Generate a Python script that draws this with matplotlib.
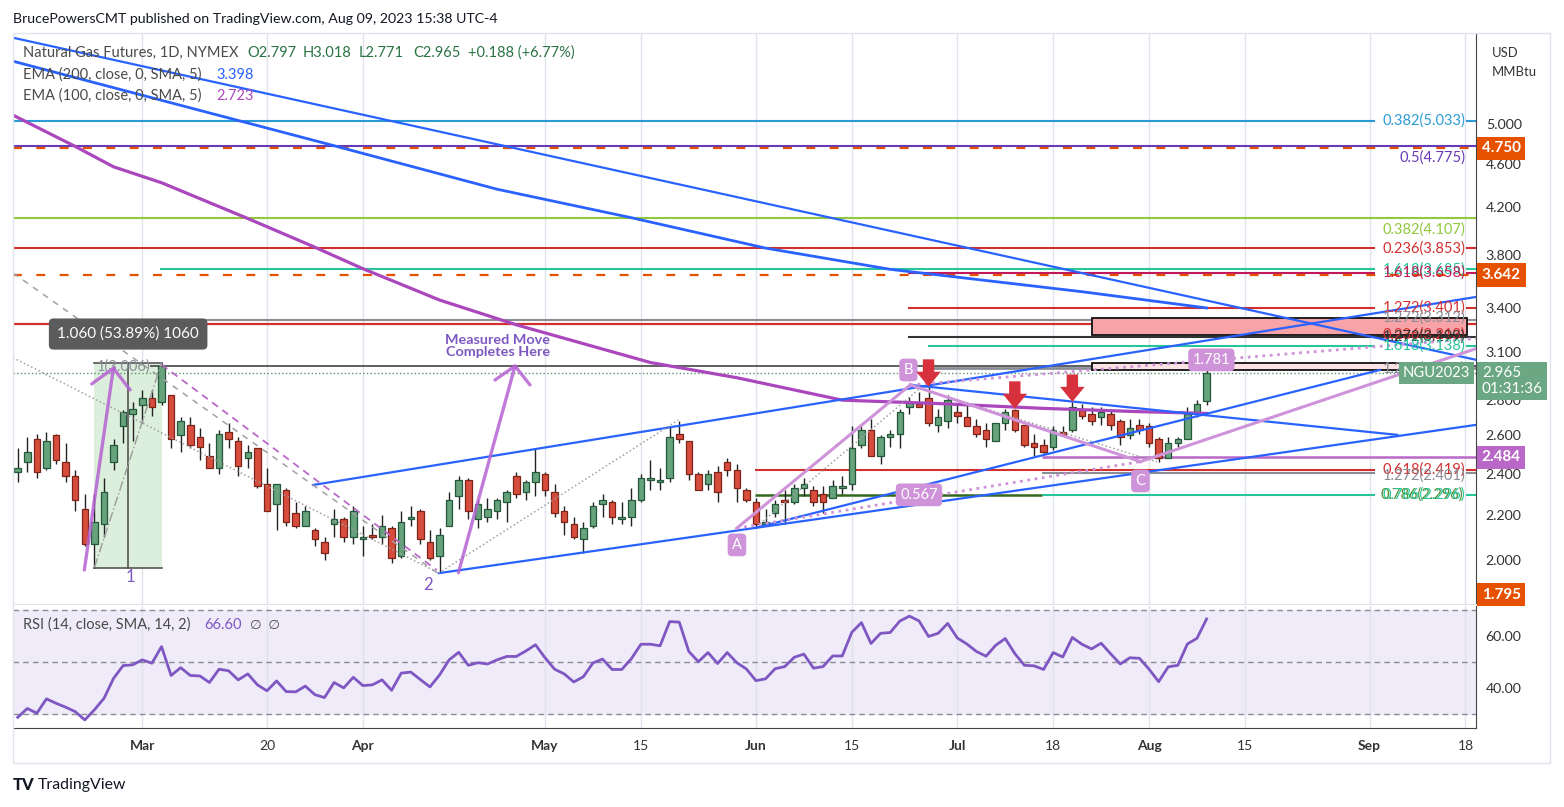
import numpy as np
import pandas as pd
import matplotlib
matplotlib.use('Agg')
import matplotlib.pyplot as plt
from matplotlib.patches import Rectangle, Polygon
from matplotlib.transforms import blended_transform_factory, Affine2D, ScaledTranslation

plt.rcParams['font.family'] = ['Lato', 'DejaVu Sans']

# trading days on NYMEX (holidays skipped), first bar is Feb 9 2023, last real bar Aug 9 2023
holidays = ['2023-02-20', '2023-04-07', '2023-05-29', '2023-06-19', '2023-07-04', '2023-09-04']
days = pd.bdate_range('2023-02-09', '2023-09-29', freq='C', holidays=holidays)

opens = [2.41, 2.46, 2.58, 2.43, 2.60, 2.46, 2.39, 2.23, 2.07, 2.16,
         2.46, 2.65, 2.72, 2.77, 2.81, 2.79, 2.83, 2.60, 2.66, 2.59,
         2.49, 2.43, 2.62, 2.57, 2.48, 2.53, 2.35, 2.25, 2.32, 2.21,
         2.15, 2.13, 2.08, 2.16, 2.18, 2.10, 2.09, 2.11, 2.10, 2.14,
         2.02, 2.18, 2.22, 2.08, 2.02, 2.15, 2.29, 2.37, 2.18, 2.19,
         2.22, 2.26, 2.39, 2.31, 2.36, 2.40, 2.31, 2.22, 2.16, 2.09,
         2.15, 2.25, 2.26, 2.18, 2.19, 2.27, 2.37, 2.36, 2.38, 2.61,
         2.57, 2.40, 2.35, 2.41, 2.46, 2.42, 2.32, 2.26, 2.16, 2.21,
         2.27, 2.26, 2.33, 2.32, 2.30, 2.28, 2.33, 2.35, 2.55, 2.63,
         2.49, 2.59, 2.61, 2.76, 2.78, 2.81, 2.66, 2.68, 2.73, 2.70,
         2.65, 2.63, 2.57, 2.67, 2.74, 2.66, 2.56, 2.55, 2.54, 2.62,
         2.63, 2.74, 2.72, 2.70, 2.72, 2.68, 2.60, 2.66, 2.65, 2.58,
         2.48, 2.56, 2.58, 2.73, 2.797]
highs = [2.53, 2.59, 2.61, 2.62, 2.61, 2.56, 2.42, 2.30, 2.30, 2.38,
         2.58, 2.74, 2.79, 2.86, 2.86, 3.027, 2.83, 2.70, 2.70, 2.64,
         2.56, 2.63, 2.67, 2.59, 2.55, 2.53, 2.43, 2.35, 2.33, 2.26,
         2.24, 2.14, 2.10, 2.23, 2.19, 2.24, 2.15, 2.16, 2.20, 2.15,
         2.22, 2.24, 2.23, 2.13, 2.14, 2.31, 2.39, 2.38, 2.27, 2.28,
         2.28, 2.32, 2.41, 2.37, 2.53, 2.41, 2.35, 2.24, 2.19, 2.17,
         2.26, 2.30, 2.27, 2.26, 2.33, 2.40, 2.47, 2.43, 2.65, 2.68,
         2.57, 2.41, 2.42, 2.44, 2.48, 2.45, 2.33, 2.28, 2.23, 2.27,
         2.32, 2.35, 2.38, 2.34, 2.34, 2.37, 2.39, 2.65, 2.65, 2.69,
         2.60, 2.63, 2.75, 2.82, 2.85, 2.88, 2.75, 2.83, 2.77, 2.79,
         2.69, 2.67, 2.67, 2.75, 2.75, 2.66, 2.61, 2.58, 2.65, 2.65,
         2.79, 2.78, 2.76, 2.76, 2.74, 2.69, 2.69, 2.69, 2.67, 2.59,
         2.59, 2.59, 2.76, 2.80, 3.018]
lows = [2.36, 2.41, 2.38, 2.42, 2.45, 2.36, 2.22, 2.06, 1.967, 2.10,
        2.42, 2.56, 2.57, 2.67, 2.71, 2.77, 2.53, 2.51, 2.53, 2.47,
        2.43, 2.40, 2.53, 2.39, 2.43, 2.33, 2.22, 2.13, 2.15, 2.14,
        2.15, 2.06, 2.00, 2.10, 2.08, 2.07, 2.02, 2.09, 2.07, 1.99,
        2.01, 2.15, 2.07, 2.00, 1.947, 2.15, 2.23, 2.18, 2.14, 2.17,
        2.18, 2.17, 2.28, 2.27, 2.29, 2.29, 2.19, 2.11, 2.09, 2.03,
        2.14, 2.19, 2.16, 2.16, 2.15, 2.26, 2.32, 2.32, 2.36, 2.56,
        2.37, 2.32, 2.32, 2.26, 2.39, 2.26, 2.26, 2.145, 2.15, 2.19,
        2.16, 2.25, 2.29, 2.24, 2.21, 2.28, 2.30, 2.32, 2.53, 2.49,
        2.45, 2.54, 2.53, 2.72, 2.76, 2.65, 2.62, 2.64, 2.67, 2.65,
        2.59, 2.54, 2.57, 2.63, 2.62, 2.54, 2.49, 2.50, 2.52, 2.60,
        2.62, 2.69, 2.66, 2.66, 2.63, 2.55, 2.58, 2.61, 2.54, 2.46,
        2.48, 2.54, 2.58, 2.70, 2.771]
closes = [2.43, 2.51, 2.41, 2.57, 2.47, 2.39, 2.27, 2.07, 2.17, 2.31,
          2.55, 2.73, 2.75, 2.81, 2.76, 3.01, 2.58, 2.68, 2.55, 2.54,
          2.43, 2.61, 2.58, 2.44, 2.51, 2.34, 2.22, 2.35, 2.17, 2.15,
          2.22, 2.09, 2.03, 2.18, 2.10, 2.22, 2.10, 2.10, 2.15, 2.01,
          2.17, 2.19, 2.09, 2.01, 2.11, 2.27, 2.37, 2.22, 2.25, 2.23,
          2.27, 2.31, 2.30, 2.36, 2.41, 2.32, 2.21, 2.17, 2.10, 2.14,
          2.24, 2.27, 2.19, 2.19, 2.27, 2.38, 2.38, 2.37, 2.59, 2.58,
          2.40, 2.32, 2.40, 2.31, 2.42, 2.33, 2.27, 2.16, 2.17, 2.25,
          2.26, 2.33, 2.35, 2.26, 2.26, 2.34, 2.34, 2.53, 2.63, 2.49,
          2.59, 2.61, 2.73, 2.79, 2.76, 2.67, 2.70, 2.80, 2.71, 2.65,
          2.61, 2.58, 2.67, 2.73, 2.63, 2.55, 2.54, 2.51, 2.63, 2.60,
          2.76, 2.71, 2.68, 2.73, 2.66, 2.59, 2.64, 2.63, 2.56, 2.48,
          2.56, 2.58, 2.72, 2.78, 2.965]
rsi = [28.8, 32.2, 30.4, 35.9, 34.2, 32.7, 31.0, 27.8, 31.7, 36.1,
       43.8, 48.7, 49.0, 50.9, 49.6, 56.0, 44.9, 47.9, 44.9, 44.7,
       42.2, 47.3, 46.7, 43.2, 45.5, 41.3, 39.0, 42.8, 38.7, 38.6,
       40.8, 37.5, 36.4, 42.2, 40.1, 44.2, 41.0, 41.3, 43.2, 39.2,
       45.8, 46.2, 43.3, 40.5, 45.1, 50.9, 53.8, 48.8, 49.8, 49.3,
       50.9, 52.2, 52.2, 54.3, 56.7, 51.7, 47.3, 45.5, 42.4, 44.4,
       49.7, 51.2, 47.2, 47.2, 51.3, 56.9, 56.9, 56.3, 65.6, 65.4,
       54.1, 50.2, 53.7, 49.5, 53.7, 49.8, 47.4, 42.9, 43.6, 47.5,
       48.3, 51.9, 53.1, 47.7, 48.3, 52.4, 52.4, 61.5, 65.2, 57.2,
       61.1, 61.4, 65.8, 67.7, 65.9, 59.9, 61.1, 64.9, 59.3, 57.0,
       54.1, 52.3, 56.5, 59.1, 53.3, 48.8, 48.6, 47.2, 53.7, 52.0,
       59.5, 56.9, 55.1, 57.3, 53.2, 49.3, 51.7, 51.5, 47.3, 42.5,
       48.2, 48.8, 57.0, 59.2, 66.6]

# moving averages at a few bars (bar numbers, 1 = first candle)
ema200_bar = [0, 34, 51, 65, 79, 92, 112, 125]
ema200_val = [5.72, 4.777, 4.36, 4.107, 3.853, 3.685, 3.516, 3.398]
ema100_bar = [0, 7, 11, 16, 25, 32, 37, 45, 53, 67, 76, 87, 97, 108, 118, 125]
ema100_val = [5.12, 4.77, 4.57, 4.42, 4.10, 3.86, 3.69, 3.455, 3.28, 3.03, 2.935, 2.80,
              2.78, 2.752, 2.733, 2.723]

tick_dates = ['2023-03-01', '2023-03-20', '2023-04-03', '2023-05-01', '2023-05-15', '2023-06-01',
              '2023-06-15', '2023-07-03', '2023-07-18', '2023-08-01', '2023-08-15', '2023-09-01',
              '2023-09-18']
tick_labels = ['Mar', '20', 'Apr', 'May', '15', 'Jun', '15', 'Jul', '18', 'Aug', '15', 'Sep', '18']
price_ticks = [2.0, 2.2, 2.4, 2.6, 2.8, 3.1, 3.4, 3.8, 4.2, 4.6, 5.0]


def bar_of(d):
    return days.get_loc(pd.Timestamp(d)) + 1


W, H = 1564, 807
FS = 10.5  # label font size
fig = plt.figure(figsize=(W / 100, H / 100), dpi=100)
ax = fig.add_axes([13 / W, 1 - 604 / H, 1463 / W, 570 / H])
axr = fig.add_axes([13 / W, 1 - 728 / H, 1463 / W, 122 / H])

XMIN, XMAX = 0.51, 153.1
ax.set_yscale('log')
ax.set_xlim(XMIN, XMAX)
ax.set_ylim(1.825, 6.04)
axr.set_xlim(XMIN, XMAX)
axr.set_ylim(24.7, 71.6)

# candles
x = np.arange(1, len(closes) + 1)
o, hi, lo, c = (np.array(v) for v in (opens, highs, lows, closes))
up = c >= o
ax.vlines(x, lo, hi, color='#222222', lw=1, zorder=4)
body = np.maximum(np.abs(c - o), 0.004)
ax.bar(x[up], body[up], bottom=o[up], width=0.68, color='#66a27c', edgecolor='#24583a', lw=0.9, zorder=5)
ax.bar(x[~up], body[~up], bottom=c[~up], width=0.68, color='#d74d3d', edgecolor='#7d2318', lw=0.9, zorder=5)

# moving averages
ax.plot(ema200_bar, ema200_val, color='#2962ff', lw=2, zorder=6)
ax.plot(ema100_bar, ema100_val, color='#ab47bc', lw=2.3, zorder=6)

# horizontal levels
LBL_X0, LBL_X1 = 142.6, 152.06


def hline(p, x0, x1, color, lw=1.5, ls='-', z=3):
    ax.plot([x0, x1], [p, p], color=color, lw=lw, ls=ls, zorder=z, solid_capstyle='butt')


def fib(p, x0, text, color, broken=True, ty=None, lw=1.5):
    if broken:
        hline(p, x0, LBL_X0, color, lw)
        hline(p, LBL_X1, XMAX, color, lw)
    else:
        hline(p, x0, XMAX, color, lw)
    ax.text(152.0, p if ty is None else ty, text, color=color, fontsize=FS,
            ha='right', va='center', zorder=7)


fib(5.033, XMIN, '0.382(5.033)', '#2a9bd6')
fib(4.775, XMIN, '0.5(4.775)', '#673ab7', broken=False, ty=4.656)
hline(4.750, XMIN, XMAX, '#e65100', 1.6, (0, (4, 6.5)))
fib(4.107, XMIN, '0.382(4.107)', '#92c83e', broken=False, ty=4.003)
fib(3.853, XMIN, '0.236(3.853)', '#d32f2f')
fib(3.685, 15.85, '1.618(3.685)', '#26c69a')
fib(3.658, 93.85, '1.618(3.658)', '#c2185b')
hline(3.642, XMIN, XMAX, '#e65100', 1.6, (0, (4, 6.5)))
fib(3.401, 93.85, '1.272(3.401)', '#d32f2f')
fib(3.312, 12.5, '1.272(3.312)', '#8a8d96', ty=3.33)
hline(3.286, XMIN, XMAX, '#d32f2f', 1.6)
ax.text(152.0, 3.213, '0.236(3.213)', color='#d32f2f', fontsize=FS, ha='right', va='center', zorder=7)
fib(3.199, 93.85, '1.272(3.199)', '#333333', broken=False)
fib(3.138, 95.94, '1.618(3.138)', '#26c69a')
hline(3.006, 14.8, XMAX, '#444444', 1.2)
fib(2.994, 95.94, '1.272(2.994)', '#8a8d96', lw=2)
hline(2.965, XMIN, XMAX, '#5f8f74', 1, ':')
hline(2.484, 107.8, XMAX, '#ba68c8', 1.8)
fib(2.419, 77.9, '0.618(2.419)', '#d32f2f')
fib(2.401, 107.8, '1.272(2.401)', '#8a8d96', ty=2.389)
hline(2.296, 77.9, 107.8, '#33691e', 1.8)
ax.text(151.8, 2.296, '0.786(2.296)', color='#558b2f', fontsize=FS, ha='right', va='center', zorder=7)
fib(2.296, 107.8, '0.786(2.296)', '#26c69a')

# zones
for p0, p1, fc in [(3.211, 3.325, '#f7a3a8'), (2.983, 3.024, '#fde3e3')]:
    ax.add_patch(Rectangle((113.08, p0), 152.13 - 113.08, p1 - p0, facecolor=fc,
                           edgecolor='#111111', lw=1.3, zorder=4))

# measured range box
ax.add_patch(Rectangle((9.0, 1.970), 7.02, 3.024 - 1.970, facecolor='#dcefdc', edgecolor='none', zorder=1))
ax.plot([9.0, 16.02], [1.970, 1.970], color='#555555', lw=1.2, zorder=3)
ax.plot([9.0, 16.02], [3.024, 3.024], color='#555555', lw=1.2, zorder=3)
ax.plot([12.54, 12.54], [1.970, 3.024], color='#555555', lw=1.2, zorder=3)
ax.text(12.1, 3.006, '1(3.006)', color='#8a8d96', fontsize=FS, ha='center', va='center', zorder=7)
ax.text(12.52, 3.217, '1.060 (53.89%) 1060', color='white', fontsize=11, ha='center', va='center', zorder=8,
        bbox=dict(boxstyle='round,pad=0.55,rounding_size=0.3', fc='#5b5b5b', ec='none'))

# trend lines
trend = [
    ((0.51, 5.993), (153.06, 3.048), '#2962ff', 1.6, '-'),
    ((31.8, 2.343), (153.06, 3.477), '#2962ff', 1.6, '-'),
    ((44.9, 1.947), (153.06, 2.658), '#2962ff', 1.6, '-'),
    ((77.9, 2.141), (143.07, 2.983), '#2962ff', 1.6, '-'),
    ((94.1, 2.891), (144.9, 2.603), '#2962ff', 1.6, '-'),
    ((0.51, 3.061), (44.7, 1.952), '#a0a0a0', 1.1, ':'),
    ((0.51, 3.657), (44.7, 1.950), '#a0a0a0', 1.1, (0, (4, 4))),
    ((16.0, 3.017), (44.7, 1.960), '#ba68c8', 1.3, (0, (4, 3))),
    ((9.0, 1.970), (16.0, 3.027), '#a0a0a0', 1.1, '-.'),
    ((44.9, 1.947), (69.9, 2.686), '#a0a0a0', 1.1, ':'),
    ((78.4, 2.16), (95.1, 2.87), '#a0a0a0', 1.1, ':'),
    ((95.1, 2.87), (119.8, 2.46), '#a0a0a0', 1.1, ':'),
    ((76.0, 2.14), (94.1, 2.891), '#ce93d8', 2.2, '-'),
    ((94.1, 2.891), (118.1, 2.461), '#ce93d8', 2.2, '-'),
    ((118.1, 2.461), (153.2, 3.122), '#ce93d8', 2.2, '-'),
    ((76.0, 2.14), (118.1, 2.461), '#ce93d8', 2, ':'),
    ((94.1, 2.891), (153.2, 3.188), '#ce93d8', 2, ':'),
]
for (x0, y0), (x1, y1), col, lw, ls in trend:
    ax.plot([x0, x1], [y0, y1], color=col, lw=lw, ls=ls, zorder=6)

# purple arrows
arrow_col = '#b563d3'
for shaft, head in [(((7.95, 1.960), (10.98, 2.994)), ((8.72, 2.897), (10.98, 2.994), (12.72, 2.861))),
                    (((46.97, 1.949), (52.87, 3.008)), ((50.78, 2.921), (52.87, 3.008), (54.43, 2.891)))]:
    ax.plot(*zip(*shaft), color=arrow_col, lw=2.4, alpha=0.85, zorder=7, solid_capstyle='round')
    ax.plot(*zip(*head), color=arrow_col, lw=2.4, alpha=0.85, zorder=7, solid_capstyle='round')

ax.text(12.72, 1.932, '1', color='#7e57c2', fontsize=12, ha='center', va='center', zorder=7)
ax.text(43.8, 1.900, '2', color='#7e57c2', fontsize=12, ha='center', va='center', zorder=7)
ax.text(51.05, 3.139, 'Measured Move\nCompletes Here', color='#7e57c2', fontsize=10.4, fontweight='bold',
        ha='center', va='center', linespacing=1.0, zorder=7)

for bx, py, s in [(76.02, 2.066, 'A'), (93.9, 2.983, 'B'), (118.1, 2.363, 'C'),
                  (95.0, 2.295, '0.567'), (125.5, 3.047, '1.781')]:
    ax.text(bx, py, s, color='white', fontsize=FS, ha='center', va='center', zorder=8,
            bbox=dict(boxstyle='round,pad=0.3,rounding_size=0.3', fc='#ce93d8', ec='none'))

# red down arrows above the three highs
arrow_px = [(0, 0), (12.3, 15), (5.7, 15), (5.7, 27.4), (-5.7, 27.4), (-5.7, 15), (-12.3, 15)]
for b in (96, 105, 111):
    tr = Affine2D() + ScaledTranslation(b, highs[b - 1], ax.transData)
    ax.add_patch(Polygon(arrow_px, closed=True, transform=tr, fc='#d7313e', ec='none', zorder=9))

# price axis
ax.yaxis.tick_right()
ax.yaxis.set_minor_locator(matplotlib.ticker.NullLocator())
ax.set_yticks(price_ticks)
ax.set_yticklabels(['%.3f' % p for p in price_ticks])
ax.tick_params(axis='y', length=0, pad=7, labelsize=10.2, labelcolor='#333333')

yax = blended_transform_factory(ax.transAxes, ax.transData)
box_kw = dict(transform=yax, color='white', fontsize=11, fontweight='bold', ha='left', va='center',
              zorder=10, clip_on=False)
for p, s, fc in [(4.750, '4.750', '#e65100'), (3.642, '3.642', '#e65100'), (2.484, '2.484', '#ba68c8')]:
    ax.text(1.004, p, s, bbox=dict(boxstyle='square,pad=0.3', fc=fc, ec='none'), **box_kw)
box_kw['transform'] = ax.transAxes
ax.text(1.004, 0.016, '1.795', bbox=dict(boxstyle='square,pad=0.3', fc='#e65100', ec='none'), **box_kw)
ax.text(1.004, 2.915, '2.965\n01:31:36', transform=yax, color='white', fontsize=11, ha='left',
        va='center', zorder=10, clip_on=False, linespacing=1.1,
        bbox=dict(boxstyle='square,pad=0.3', fc='#6aa782', ec='none'))
ax.text(0.9959, 2.965, 'NGU2023', transform=yax, color='white', fontsize=10.6, ha='right', va='center',
        zorder=10, bbox=dict(boxstyle='square,pad=0.25', fc='#6aa782', ec='none'))

# grid and time axis
tick_pos = [bar_of(d) for d in tick_dates]
for a in (ax, axr):
    a.set_xticks(tick_pos)
    a.grid(axis='x', color='#e0e3eb', lw=1)
    a.set_axisbelow(True)
    for s in ('top', 'left'):
        a.spines[s].set_visible(False)
    a.spines['right'].set_color('#444444')
ax.tick_params(axis='x', length=0, labelbottom=False)
ax.spines['bottom'].set_color('#e0e3eb')
axr.spines['bottom'].set_color('#444444')
axr.set_xticklabels(tick_labels)
axr.tick_params(axis='x', length=0, pad=9, labelsize=10, labelcolor='#333333')
for t in axr.get_xticklabels():
    if not t.get_text().isdigit():
        t.set_fontweight('bold')

# RSI pane
axr.axhspan(30, 70, color='#efebf8', zorder=0)
for lvl in (30, 50, 70):
    axr.axhline(lvl, color='#8a8d96', lw=1, ls=(0, (4, 3)), zorder=1)
axr.plot(x, rsi, color='#7e57c2', lw=2, zorder=3)
axr.yaxis.tick_right()
axr.set_yticks([40, 60])
axr.set_yticklabels(['40.00', '60.00'])
axr.tick_params(axis='y', length=0, pad=7, labelsize=10.2, labelcolor='#333333')


# header and legends
def ftext(px, py, s, **kw):
    fig.text(px / W, 1 - py / H, s, va='center', **kw)


ftext(13, 19, 'BrucePowersCMT published on TradingView.com, Aug 09, 2023 15:38 UTC-4', fontsize=10.2, color='#131722')
ftext(23, 53, 'Natural Gas Futures, 1D, NYMEX', fontsize=FS, color='#4a4a4a')
for px, s in [(247, 'O2.797'), (303, 'H3.018'), (359, 'L2.771'), (413, 'C2.965'), (468, '+0.188 (+6.77%)')]:
    ftext(px, 53, s, fontsize=FS, color='#2a7343')
ftext(23, 75, 'EMA (200, close, 0, SMA, 5)', fontsize=FS, color='#4a4a4a')
ftext(216, 75, '3.398', fontsize=FS, color='#2962ff')
ftext(23, 96, 'EMA (100, close, 0, SMA, 5)', fontsize=FS, color='#4a4a4a')
ftext(216, 96, '2.723', fontsize=FS, color='#ab47bc')
ftext(23, 625, 'RSI (14, close, SMA, 14, 2)', fontsize=FS, color='#4a4a4a')
ftext(204, 625, '66.60', fontsize=FS, color='#7e57c2')
ftext(250, 625, '\u2205  \u2205', fontsize=9.6, color='#4a4a4a')
ftext(1492, 53, 'USD', fontsize=9.4, color='#333333')
ftext(1492, 72, 'MMBtu', fontsize=9.4, color='#333333')
ftext(13, 785, 'TV', fontsize=12, fontweight='black', color='#131722')
ftext(38, 785, 'TradingView', fontsize=11.4, color='#131722')

fig.add_artist(Rectangle((13 / W, 1 - 763 / H), 1537 / W, 730 / H, transform=fig.transFigure,
                         fill=False, ec='#e0e3eb', lw=1))

fig.savefig('out.png', dpi=100)
